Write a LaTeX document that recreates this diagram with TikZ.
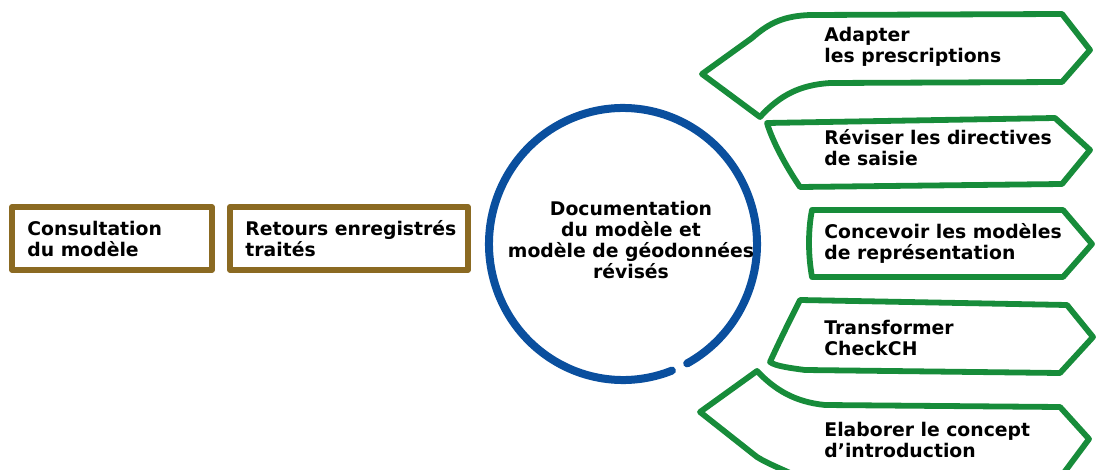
\documentclass[tikz,border=0pt]{standalone}
\usepackage{fontspec}
\setmainfont{DejaVu Sans}
\definecolor{brownbox}{HTML}{8B6A22}
\definecolor{bluering}{HTML}{0A4F9E}
\definecolor{greenarrow}{HTML}{178C3A}
\tikzstyle{txt}=[font=\bfseries\fontsize{9.4}{10.5}\selectfont, align=left, inner sep=0pt]
\tikzstyle{frame}=[draw=brownbox, line width=2.9pt, line cap=round, line join=round]
\tikzstyle{ring}=[draw=bluering, line width=4pt, line cap=round]
\tikzstyle{chevron}=[draw=greenarrow, line width=2.9pt, line cap=round, line join=round]

\begin{document}
\begin{tikzpicture}[x=0.5pt, y=-0.5pt]
    \useasboundingbox (0,0) rectangle (1096,470);
    \clip (0,0) rectangle (1096,470);
    % First the two brown boxes on the left
    \foreach \xa/\xb/\name/\txt in {12/212/cons/{Consultation\\du modèle}, 230/468/retours/{Retours enregistrés\\traités}} {
        \draw[frame] (\xa,207) rectangle (\xb,270);
        \node[txt, anchor=west] (\name) at (\xa+15,239) {\txt};
    }
    % The open blue ring with the result in it
    \draw[ring] (623,244) ++(68.6:134 and 136) arc[start angle=68.6, end angle=421.4, x radius=134, y radius=136];
    \node[txt, align=center] (doc) at (631,240) {Documentation\\du modèle et\\modèle de géodonnées\\révisés};
    % Green chevrons on the right
    \path[chevron] (702,74) -- (752,38) .. controls (770,22) and (785,16) .. (810,15) -- (1062,14) -- (1090,50)
        -- (1062,82) -- (830,83) .. controls (800,85) and (780,95) .. (760,117) -- cycle;
    \path[chevron] (767,123) -- (1055,118) -- (1090,150) -- (1062,184) -- (800,187)
        .. controls (785,165) and (772,140) .. cycle;
    \path[chevron] (812,210) -- (1063,210) -- (1092,244) -- (1063,277) -- (812,277)
        .. controls (808,255) and (808,230) .. cycle;
    \path[chevron] (800,300) -- (1067,305) -- (1093,337) -- (1060,373) -- (805,370)
        .. controls (790,368) and (775,366) .. (770,362) .. controls (780,340) and (790,320) .. cycle;
    \path[chevron] (757,371) .. controls (775,390) and (795,402) .. (825,405) -- (1060,407) -- (1089,439)
        -- (1060,478) -- (800,478) .. controls (785,470) and (770,465) .. (757,457) -- (700,412) -- cycle;
    % Texts of the chevrons
    \foreach \y/\name/\txt in {47/adapter/{Adapter\\les prescriptions}, 148/reviser/{Réviser les directives\\de saisie},
        243/concevoir/{Concevoir les modèles\\de représentation}, 338/transformer/{Transformer\\CheckCH},
        440/elaborer/{Elaborer le concept\\d’introduction}}
        \node[txt, anchor=west] (\name) at (824,\y) {\txt};
\end{tikzpicture}
\end{document}
